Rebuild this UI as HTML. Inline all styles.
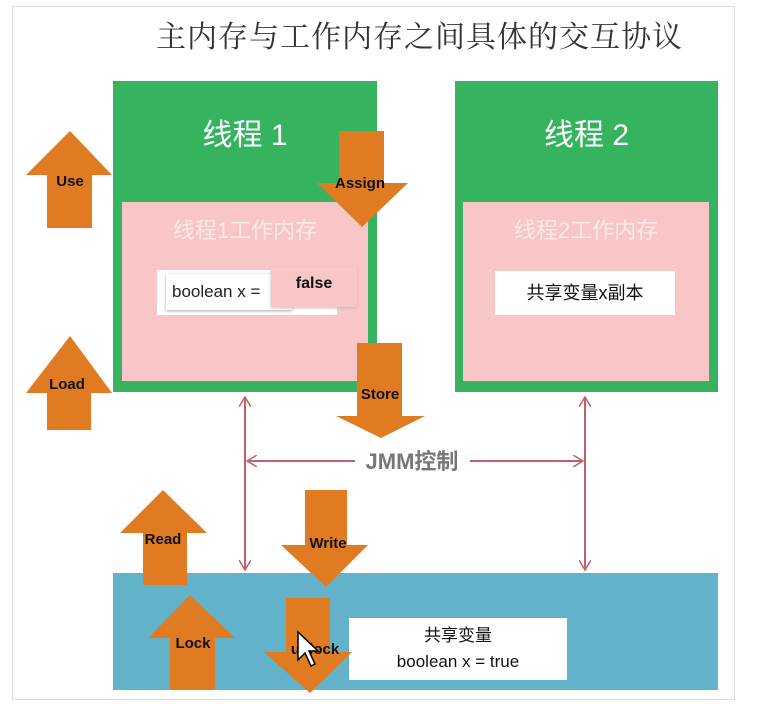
<!DOCTYPE html>
<html><head><meta charset="utf-8"><style>
body{margin:0;width:770px;height:704px;background:#fff;overflow:hidden;position:relative;font-family:"Liberation Sans","Noto Sans CJK SC",sans-serif}
.a{position:absolute}
</style></head><body>
<div class="a" style="left:12px;top:6px;width:721px;height:692px;border:1px solid #ddd"></div>
<div class="a" style="left:156px;top:12px;font:30px 'Liberation Serif','Noto Serif CJK SC',serif;color:#333;letter-spacing:1px">主内存与工作内存之间具体的交互协议</div>
<div class="a" style="left:113px;top:81px;width:264px;height:311px;background:#36b35f"></div>
<div class="a" style="left:122px;top:202px;width:246px;height:179px;background:#f8c6c6"></div>
<div class="a" style="left:455px;top:81px;width:263px;height:311px;background:#36b35f"></div>
<div class="a" style="left:463px;top:202px;width:246px;height:179px;background:#f8c6c6"></div>
<div class="a" style="left:113px;top:110px;width:264px;text-align:center;color:#fff;font-size:30px">线程 1</div>
<div class="a" style="left:455px;top:110px;width:263px;text-align:center;color:#fff;font-size:30px">线程 2</div>
<div class="a" style="left:122px;top:213px;width:246px;text-align:center;color:#fde8e8;font-size:22px">线程1工作内存</div>
<div class="a" style="left:463px;top:213px;width:246px;text-align:center;color:#fde8e8;font-size:22px">线程2工作内存</div>
<div class="a" style="left:157px;top:270px;width:180px;height:45px;background:#fff"></div>
<div class="a" style="left:166px;top:274px;width:120px;height:36px;background:#fff;box-shadow:0 1px 3px #aaa;font-size:17px;line-height:36px;padding-left:6px;color:#222">boolean x =</div>
<div class="a" style="left:271px;top:267px;width:86px;height:40px;background:#f8c6c6;box-shadow:0 1px 3px #bbb;font-size:16px;font-weight:bold;text-align:center;line-height:34px;color:#111">false</div>
<div class="a" style="left:495px;top:271px;width:180px;height:44px;background:#fff;text-align:center;line-height:44px;font-size:18px;color:#111">共享变量x副本</div>
<div class="a" style="left:113px;top:573px;width:605px;height:117px;background:#62b3c9"></div>
<div class="a" style="left:349px;top:618px;width:218px;height:62px;background:#fff;text-align:center;font-size:17px;color:#111;line-height:26px;padding-top:5px;box-sizing:border-box">共享变量<br>boolean x = true</div>
<svg class="a" style="left:0;top:0" width="770" height="704">
<defs><marker id="m" markerWidth="12" markerHeight="12" refX="10" refY="6" orient="auto-start-reverse" markerUnits="userSpaceOnUse"><path d="M0,0 L10,6 L0,12" fill="none" stroke="#c0606a" stroke-width="1.5"/></marker></defs>
<g stroke="#c0606a" stroke-width="2" fill="none">
<line x1="245" y1="397" x2="245" y2="570" marker-start="url(#m)" marker-end="url(#m)"/>
<line x1="585" y1="397" x2="585" y2="570" marker-start="url(#m)" marker-end="url(#m)"/>
<line x1="247" y1="461" x2="355" y2="461" marker-start="url(#m)"/>
<line x1="470" y1="461" x2="583" y2="461" marker-end="url(#m)"/>
</g>
<text x="412" y="469" text-anchor="middle" font-size="22" font-weight="bold" fill="#777" font-family="Liberation Sans,Noto Sans CJK SC,sans-serif">JMM控制</text>
<g fill="#e07b22">
<path d="M70,131 L112,175 L92,175 L92,228 L47,228 L47,175 L26,175Z"/>
<path d="M70,336 L112,393 L91,393 L91,430 L47,430 L47,393 L26,393Z"/>
<path d="M339,131 L384,131 L384,183 L408,183 L362,227 L317,183 L339,183Z"/>
<path d="M357,343 L402,343 L402,416 L425,416 L381,438 L336,416 L357,416Z"/>
<path d="M305,490 L347,490 L347,545 L368,545 L326,587 L281,545 L305,545Z"/>
<path d="M163,490 L207,533 L187,533 L187,585 L143,585 L143,533 L120,533Z"/>
<path d="M190,595 L235,638 L215,638 L215,690 L170,690 L170,638 L148,638Z"/>
<path d="M286,598 L330,598 L330,652 L352,652 L310,693 L264,652 L286,652Z"/>
</g>
<g font-size="15" font-weight="bold" fill="#111" text-anchor="middle" font-family="Liberation Sans,sans-serif">
<text x="70" y="186">Use</text>
<text x="67" y="389">Load</text>
<text x="360" y="188">Assign</text>
<text x="380" y="399">Store</text>
<text x="328" y="548">Write</text>
<text x="163" y="544">Read</text>
<text x="193" y="648">Lock</text>
<text x="315" y="654">unlock</text>
</g>
<path d="M298,632 L298,660 L305,653 L311,666 L315,664 L309,651 L318,651Z" fill="#fff" stroke="#000" stroke-width="1.5"/>
</svg>
</body></html>
